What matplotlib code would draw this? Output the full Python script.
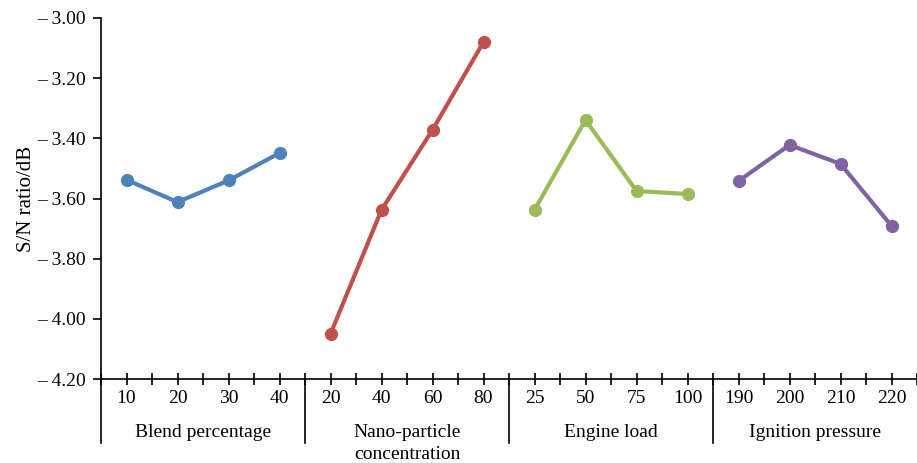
import matplotlib

matplotlib.use("Agg")
import matplotlib.pyplot as plt
import matplotlib.transforms as mtransforms
import numpy as np

plt.rcParams["font.family"] = ["Liberation Serif", "DejaVu Serif"]

GROUPS = ["Blend percentage", "Nano-particle\nconcentration", "Engine load", "Ignition pressure"]
LEVELS = [
    ["10", "20", "30", "40"],
    ["20", "40", "60", "80"],
    ["25", "50", "75", "100"],
    ["190", "200", "210", "220"],
]
blend = [-3.538, -3.612, -3.540, -3.449]
nano = [-4.050, -3.638, -3.372, -3.080]
load = [-3.638, -3.339, -3.575, -3.585]
ignition = [-3.542, -3.422, -3.485, -3.691]
SERIES = [blend, nano, load, ignition]
COLORS = ["#4F81BD", "#C0504D", "#9BBB59", "#8064A2"]
YTICKS = [-4.2, -4.0, -3.8, -3.6, -3.4, -3.2, -3.0]

fig = plt.figure(figsize=(9.17, 4.63), dpi=100)
ax = fig.add_axes([101 / 917, 84 / 463, 1 - 101 / 917, 361 / 463])

for g, (values, color) in enumerate(zip(SERIES, COLORS)):
    x = np.arange(len(values)) + 4 * g
    ax.plot(x, values, color=color, lw=3.0, marker="o", ms=8.5, solid_capstyle="round")

ax.set_xlim(-0.5, 15.4)
ax.set_ylim(-4.2, -3.0)
ax.set_yticks(YTICKS, [f"\u2013 {abs(v):.2f}" for v in YTICKS])
ax.set_xticks(np.arange(-0.5, 16, 0.5))
ax.set_xticklabels([])
ax.tick_params(axis="x", direction="inout", length=9, width=1.2)
ax.tick_params(axis="y", direction="out", length=6, width=1.2, labelsize=14, pad=5)
for side in ("top", "right"):
    ax.spines[side].set_visible(False)
for side in ("left", "bottom"):
    ax.spines[side].set_linewidth(1.2)
ax.set_ylabel("S/N ratio/dB", fontsize=15, labelpad=1)

trans = mtransforms.blended_transform_factory(ax.transData, ax.transAxes)
for g in range(4):
    for i, label in enumerate(LEVELS[g]):
        ax.text(4 * g + i, -0.055, label, transform=trans, ha="center", va="center", fontsize=14)
    ax.text(4 * g + 1.5, -0.125, GROUPS[g], transform=trans, ha="center", va="top",
            fontsize=14, linespacing=1.4)
    ax.plot([4 * g - 0.5] * 2, [0, -0.178], transform=trans, color="black", lw=1.2, clip_on=False)

fig.savefig("out.png", dpi=100)
